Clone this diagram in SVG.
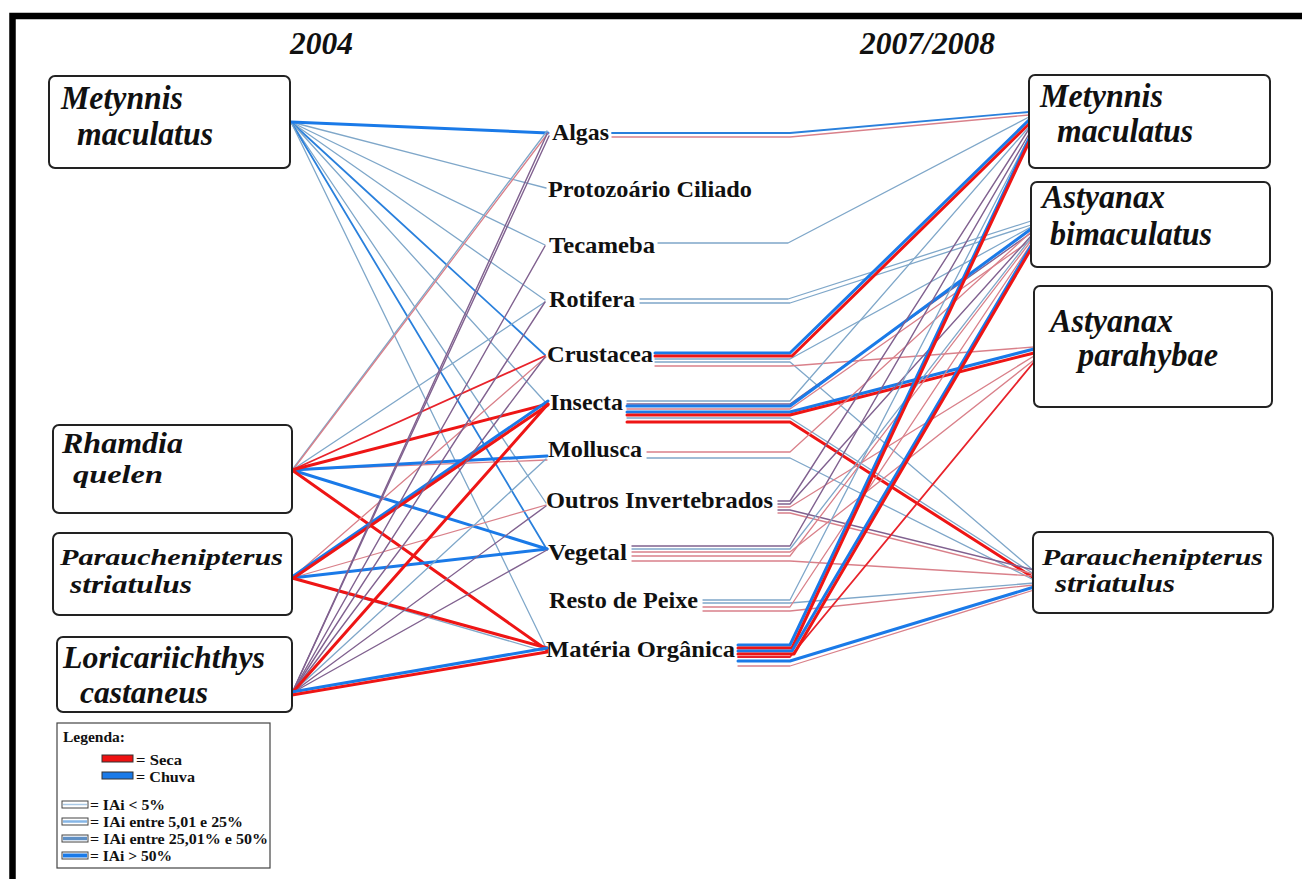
<svg xmlns="http://www.w3.org/2000/svg" width="1302" height="879" viewBox="0 0 1302 879">
  <style>
    .sp { font-family: "Liberation Serif", "Times New Roman", serif; font-weight: bold; font-style: italic; fill: #111; }
    .spn { font-family: "Liberation Serif", "Times New Roman", serif; font-style: italic; fill: #111; }
    .it { font-family: "Liberation Serif", "Times New Roman", serif; font-weight: bold; font-size: 23px; fill: #111; }
    .lg { font-family: "Liberation Serif", "Times New Roman", serif; font-weight: bold; font-size: 14px; fill: #111; }
    .box { fill: #fff; stroke: #222; stroke-width: 2; }
    #connectors path { fill: none; stroke-linecap: round; stroke-linejoin: round; }
    .lb { stroke: #7fa7c9; stroke-width: 1.3; }
    .lr { stroke: #d9808a; stroke-width: 1.3; }
    .pu { stroke: #80618f; stroke-width: 1.4; }
    .bm { stroke: #2a80dc; stroke-width: 1.8; }
    .rm { stroke: #e8232b; stroke-width: 1.8; }
    .bt { stroke: #1a7ae8; stroke-width: 3; }
    .rt { stroke: #ee1515; stroke-width: 3; }
  </style>

  <rect x="0" y="0" width="1302" height="879" fill="#fff"/>
  <!-- outer frame -->
  <path d="M12.5,879 V16 H1302" fill="none" stroke="#000" stroke-width="6.5"/>

  <!-- column headings -->
  <text class="sp" x="290" y="54" font-size="31" textLength="63" lengthAdjust="spacingAndGlyphs">2004</text>
  <text class="sp" x="860" y="54" font-size="31" textLength="135" lengthAdjust="spacingAndGlyphs">2007/2008</text>

  <g id="connectors">
    <!-- 2004: predators to food items -->
    <g id="links-2004">
      <path class="lb" d="M291,122 L546,188"/>
      <path class="lb" d="M291,122 L545,245"/>
      <path class="lb" d="M291,122 L545,300"/>
      <path class="bm" d="M291,122 L545,355"/>
      <path class="lb" d="M291,122 L547,404"/>
      <path class="lb" d="M291,122 L546,503"/>
      <path class="bm" d="M291,122 L546,548"/>
      <path class="lb" d="M291,122 L546,648"/>
      <path class="bt" d="M291,122 L548,133"/>

      <path class="lb" d="M292,470 L547,131"/>
      <path class="lr" d="M292,471 L548,133"/>
      <path class="lb" d="M292,470 L545,302"/>
      <path class="rm" d="M292,470 L545,356"/>
      <path class="lr" d="M292,470 L547,460"/>
      <path class="bt" d="M292,470 L547,456"/>
      <path class="bt" d="M292,470 L547,549"/>
      <path class="rt" d="M292,470 L547,650"/>
      <path class="rt" d="M292,470 L548,404"/>

      <path class="lr" d="M292,578 L546,357"/>
      <path class="lr" d="M292,578 L546,505"/>
      <path class="lb" d="M292,578 L547,652"/>
      <path class="bt" d="M292,578 L547,549"/>
      <path class="rt" d="M292,578 L547,648"/>
      <path class="bt" d="M292,577 L548,401"/>
      <path class="rt" d="M292,579 L548,405"/>

      <path class="pu" d="M292,693 L547,134"/>
      <path class="pu" d="M292,693 L549,136"/>
      <path class="pu" d="M292,693 L545,246"/>
      <path class="pu" d="M292,693 L545,302"/>
      <path class="pu" d="M292,693 L545,357"/>
      <path class="lb" d="M292,693 L546,459"/>
      <path class="pu" d="M292,693 L546,506"/>
      <path class="pu" d="M292,693 L547,550"/>
      <path class="rt" d="M292,693 L548,404"/>
      <path class="bt" d="M292,692 L547,648"/>
      <path class="rt" d="M292,695 L547,652"/>
    </g>

    <!-- 2007/2008: food items to predators -->
    <g id="links-2008">
      <!-- Algas -->
      <path class="bm" d="M612,133 H790 L1029,112"/>
      <path class="lr" d="M612,137 H790 L1029,115"/>
      <!-- Tecameba -->
      <path class="lb" d="M658,243 H788 L1029,117"/>
      <!-- Rotifera -->
      <path class="lb" d="M640,299 H788 L1031,221"/>
      <path class="lb" d="M640,303 H790 L1031,225"/>
      <!-- Crustacea -->
      <path class="lb" d="M655,359 H790 L1031,227"/>
      <path class="lb" d="M655,362 H790 L1034,571"/>
      <path class="lr" d="M655,366 H790 L1034,347"/>
      <path class="bt" d="M655,353 H790 L1029,120"/>
      <path class="rt" d="M655,356 H792 L1029,124"/>
      <!-- Insecta -->
      <path class="lb" d="M627,401 H790 L1029,127"/>
      <path class="pu" d="M627,404 H790 L1031,233"/>
      <path class="lr" d="M627,409 H790 L1031,240"/>
      <path class="lb" d="M627,418 H790 L1034,574"/>
      <path class="bt" d="M627,406 H790 L1031,229"/>
      <path class="bt" d="M627,412 H790 L1034,349"/>
      <path class="rt" d="M627,415 H790 L1034,353"/>
      <path class="rt" d="M627,422 H790 L1034,578"/>
      <!-- Mollusca -->
      <path class="lr" d="M647,452 H790 L1031,232"/>
      <path class="lb" d="M647,458 H790 L1034,580"/>
      <!-- Outros Invertebrados -->
      <path class="pu" d="M778,501 H790 L1029,129"/>
      <path class="pu" d="M778,504 H790 L1031,236"/>
      <path class="lr" d="M778,507 H790 L1034,356"/>
      <path class="pu" d="M778,510 H790 L1034,570"/>
      <path class="lr" d="M778,513 H790 L1034,574"/>
      <!-- Vegetal -->
      <path class="pu" d="M632,546 H790 L1029,134"/>
      <path class="lb" d="M632,549 H790 L1031,238"/>
      <path class="lr" d="M632,552 H790 L1034,360"/>
      <path class="lr" d="M632,556 H790 L1031,241"/>
      <path class="lr" d="M632,561 H790 L1034,576"/>
      <!-- Resto de Peixe -->
      <path class="lb" d="M703,600 H790 L1029,137"/>
      <path class="lb" d="M703,603 H790 L1034,583"/>
      <path class="lr" d="M703,607 H790 L1031,244"/>
      <path class="lr" d="M703,611 H790 L1034,585"/>
      <!-- Matéria Orgânica -->
      <path class="rm" d="M738,657 H790 L1034,362"/>
      <path class="lr" d="M738,666 H790 L1034,590"/>
      <path class="bt" d="M738,645 H790 L1029,139"/>
      <path class="rt" d="M738,648 H792 L1029,142"/>
      <path class="bt" d="M738,651 H792 L1031,246"/>
      <path class="rt" d="M738,654 H794 L1031,249"/>
      <path class="bt" d="M738,661 H790 L1034,587"/>
    </g>
  </g>

  <!-- predators, 2004 -->
  <g id="metynnis-2004">
    <rect class="box" x="49" y="76" width="241" height="92" rx="6"/>
    <text class="sp" x="61" y="109" font-size="33" textLength="122" lengthAdjust="spacingAndGlyphs">Metynnis</text>
    <text class="sp" x="77" y="145" font-size="33" textLength="136" lengthAdjust="spacingAndGlyphs">maculatus</text>
  </g>
  <g id="rhamdia-2004">
    <rect class="box" x="53" y="425" width="239" height="88" rx="6"/>
    <text class="sp" x="62" y="453" font-size="30" textLength="121" lengthAdjust="spacingAndGlyphs">Rhamdia</text>
    <text class="sp" x="73" y="483" font-size="26" textLength="90" lengthAdjust="spacingAndGlyphs">quelen</text>
  </g>
  <g id="parauchenipterus-2004">
    <rect class="box" x="53" y="533" width="239" height="82" rx="6"/>
    <text class="sp" x="60" y="565" font-size="24" textLength="223" lengthAdjust="spacingAndGlyphs">Parauchenipterus</text>
    <text class="sp" x="70" y="593" font-size="25" textLength="122" lengthAdjust="spacingAndGlyphs">striatulus</text>
  </g>
  <g id="loricariichthys-2004">
    <rect class="box" x="57" y="637" width="235" height="75" rx="6"/>
    <text class="spn" x="63" y="668" font-size="31" font-weight="600" textLength="202" lengthAdjust="spacingAndGlyphs">Loricariichthys</text>
    <text class="spn" x="80" y="703" font-size="31" font-weight="600" textLength="128" lengthAdjust="spacingAndGlyphs">castaneus</text>
  </g>

  <!-- food items -->
  <g id="algas"><text class="it" x="552" y="140" textLength="57" lengthAdjust="spacingAndGlyphs">Algas</text></g>
  <g id="protozoario"><text class="it" x="548" y="197" textLength="204" lengthAdjust="spacingAndGlyphs">Protozoário Ciliado</text></g>
  <g id="tecameba"><text class="it" x="549" y="253" textLength="106" lengthAdjust="spacingAndGlyphs">Tecameba</text></g>
  <g id="rotifera"><text class="it" x="549" y="307" textLength="86" lengthAdjust="spacingAndGlyphs">Rotifera</text></g>
  <g id="crustacea"><text class="it" x="547" y="362" textLength="106" lengthAdjust="spacingAndGlyphs">Crustacea</text></g>
  <g id="insecta"><text class="it" x="550" y="410" textLength="73" lengthAdjust="spacingAndGlyphs">Insecta</text></g>
  <g id="mollusca"><text class="it" x="548" y="457" textLength="94" lengthAdjust="spacingAndGlyphs">Mollusca</text></g>
  <g id="outros"><text class="it" x="546" y="508" textLength="227" lengthAdjust="spacingAndGlyphs">Outros Invertebrados</text></g>
  <g id="vegetal"><text class="it" x="548" y="560" textLength="79" lengthAdjust="spacingAndGlyphs">Vegetal</text></g>
  <g id="resto-peixe"><text class="it" x="549" y="608" textLength="149" lengthAdjust="spacingAndGlyphs">Resto de Peixe</text></g>
  <g id="materia-organica"><text class="it" x="546" y="657" textLength="189" lengthAdjust="spacingAndGlyphs">Matéria Orgânica</text></g>

  <!-- predators, 2007/2008 -->
  <g id="metynnis-2008">
    <rect class="box" x="1029" y="75" width="241" height="93" rx="6"/>
    <text class="sp" x="1040" y="107" font-size="33" textLength="123" lengthAdjust="spacingAndGlyphs">Metynnis</text>
    <text class="sp" x="1057" y="142" font-size="33" textLength="136" lengthAdjust="spacingAndGlyphs">maculatus</text>
  </g>
  <g id="astyanax-bimaculatus">
    <rect class="box" x="1031" y="182" width="239" height="85" rx="6"/>
    <text class="sp" x="1042" y="208" font-size="33" textLength="123" lengthAdjust="spacingAndGlyphs">Astyanax</text>
    <text class="sp" x="1050" y="245" font-size="33" textLength="162" lengthAdjust="spacingAndGlyphs">bimaculatus</text>
  </g>
  <g id="astyanax-parahybae">
    <rect class="box" x="1034" y="286" width="238" height="121" rx="6"/>
    <text class="sp" x="1050" y="332" font-size="33" textLength="123" lengthAdjust="spacingAndGlyphs">Astyanax</text>
    <text class="sp" x="1078" y="366" font-size="33" textLength="140" lengthAdjust="spacingAndGlyphs">parahybae</text>
  </g>
  <g id="parauchenipterus-2008">
    <rect class="box" x="1033" y="532" width="240" height="81" rx="6"/>
    <text class="sp" x="1042" y="565" font-size="24" textLength="221" lengthAdjust="spacingAndGlyphs">Parauchenipterus</text>
    <text class="sp" x="1055" y="592" font-size="25" textLength="120" lengthAdjust="spacingAndGlyphs">striatulus</text>
  </g>

  <!-- key -->
  <g id="legend">
    <rect x="57" y="723" width="213" height="145" fill="#fff" stroke="#444" stroke-width="1.2"/>
    <text class="lg" x="63" y="742" textLength="62" lengthAdjust="spacingAndGlyphs">Legenda:</text>
    <rect x="102" y="755" width="31" height="7" fill="#ee1111" stroke="#333" stroke-width="1"/>
    <text class="lg" x="136" y="765" textLength="46" lengthAdjust="spacingAndGlyphs">= Seca</text>
    <rect x="102" y="772" width="31" height="7" fill="#1a7ae8" stroke="#333" stroke-width="1"/>
    <text class="lg" x="136" y="782" textLength="59" lengthAdjust="spacingAndGlyphs">= Chuva</text>

    <rect x="62" y="801" width="26" height="7" fill="#fff" stroke="#444" stroke-width="1"/>
    <line x1="63" y1="804.5" x2="87" y2="804.5" stroke="#a9c9e6" stroke-width="1.5"/>
    <text class="lg" x="90" y="810" textLength="75" lengthAdjust="spacingAndGlyphs">= IAi &lt; 5%</text>

    <rect x="62" y="818" width="26" height="7" fill="#fff" stroke="#444" stroke-width="1"/>
    <line x1="63" y1="821.5" x2="87" y2="821.5" stroke="#86b6e6" stroke-width="2.5"/>
    <text class="lg" x="90" y="827" textLength="153" lengthAdjust="spacingAndGlyphs">= IAi entre 5,01 e 25%</text>

    <rect x="62" y="835" width="26" height="7" fill="#fff" stroke="#444" stroke-width="1"/>
    <line x1="63" y1="838.5" x2="87" y2="838.5" stroke="#5f8fc4" stroke-width="3.5"/>
    <text class="lg" x="90" y="844" textLength="178" lengthAdjust="spacingAndGlyphs">= IAi entre 25,01% e 50%</text>

    <rect x="62" y="852" width="26" height="7" fill="#fff" stroke="#444" stroke-width="1"/>
    <line x1="63" y1="855.5" x2="87" y2="855.5" stroke="#1a7ae8" stroke-width="4"/>
    <text class="lg" x="90" y="861" textLength="82" lengthAdjust="spacingAndGlyphs">= IAi &gt; 50%</text>
  </g>
</svg>
